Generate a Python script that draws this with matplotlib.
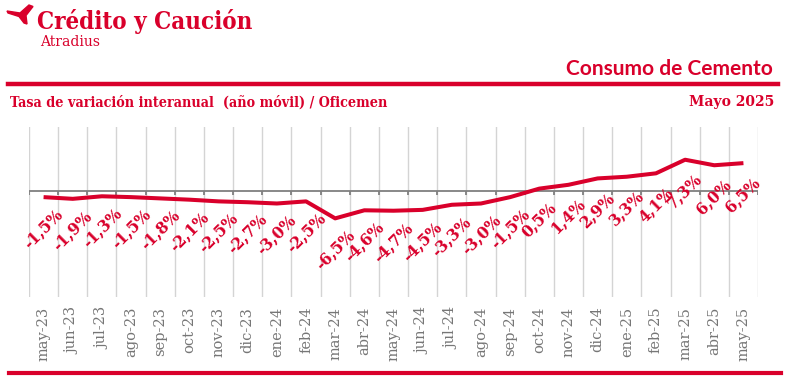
import numpy as np
import matplotlib.pyplot as plt
from matplotlib.patches import Polygon

# data
months = ['may-23', 'jun-23', 'jul-23', 'ago-23', 'sep-23', 'oct-23', 'nov-23', 'dic-23',
          'ene-24', 'feb-24', 'mar-24', 'abr-24', 'may-24', 'jun-24', 'jul-24', 'ago-24',
          'sep-24', 'oct-24', 'nov-24', 'dic-24', 'ene-25', 'feb-25', 'mar-25', 'abr-25',
          'may-25']
variacion = [-1.5, -1.9, -1.3, -1.5, -1.8, -2.1, -2.5, -2.7, -3.0, -2.5, -6.5, -4.6, -4.7,
             -4.5, -3.3, -3.0, -1.5, 0.5, 1.4, 2.9, 3.3, 4.1, 7.3, 6.0, 6.5]

red = '#d9002b'
gray = '#7f7f7f'
W, H = 794, 386

fig = plt.figure(figsize=(W/100, H/100), dpi=100)
ax = fig.add_axes([29/W, 1 - 297/H, 729/W, 170/H])

x = np.arange(len(months))
ax.plot(x, variacion, color=red, lw=2.9, solid_capstyle='butt', zorder=3)

# labels under each point
for xi, v in zip(x, variacion):
    txt = ('%.1f%%' % v).replace('.', ',')
    ax.annotate(txt, (xi, v), xytext=(0, -23), textcoords='offset points',
                rotation=45, rotation_mode='anchor', ha='center', va='center',
                color=red, fontsize=12.5, fontweight='bold', family='DejaVu Serif',
                fontstretch='condensed')

ax.set_xlim(-0.5, len(months) - 0.5)
ax.set_ylim(-25, 15)
bounds = np.arange(len(months) + 1) - 0.5
for b in bounds:
    ax.axvline(b, color='#d4d4d4', lw=1, zorder=1)
ax.axhline(0, color=gray, lw=1.3, zorder=2)
ax.vlines(bounds, -0.9, 0, color=gray, lw=1.3, zorder=2)

ax.set_xticks(x)
ax.set_xticklabels(months, rotation=90, color='#767676', fontsize=10.5,
                   family='DejaVu Serif')
ax.tick_params(axis='x', length=0, pad=7)
ax.set_yticks([])
for s in ax.spines.values():
    s.set_visible(False)

# header
def fx(px):
    return px / W

def fy(py):
    return 1 - py / H

# logo mark
logo = [(7, 11), (20, 13), (29, 5), (33, 6.5), (26, 15.5), (27, 24),
        (24, 23), (19, 16.5), (8, 13)]
fig.patches.append(Polygon([(fx(a), fy(b)) for a, b in logo], closed=True,
                           transform=fig.transFigure, color=red))
fig.text(fx(37), fy(29), 'Crédito y Caución', color=red, fontsize=17.3, fontweight='bold',
         family='DejaVu Serif', fontstretch='condensed', ha='left', va='baseline')
fig.text(fx(40), fy(46), 'Atradius', color=red, fontsize=10, family='DejaVu Serif',
         ha='left', va='baseline')
fig.text(fx(773), fy(75), 'Consumo de Cemento', color=red, fontsize=15, fontweight='bold',
         family='Lato', ha='right', va='baseline')
fig.add_artist(plt.Line2D([fx(8), fx(778)], [fy(84), fy(84)], color=red, lw=3.2))
fig.text(fx(10), fy(107), 'Tasa de variación interanual  (año móvil) / Oficemen', color=red,
         fontsize=10.3, fontweight='bold', family='DejaVu Serif', fontstretch='condensed',
         ha='left', va='baseline')
fig.text(fx(774), fy(106), 'Mayo 2025', color=red, fontsize=10, fontweight='bold',
         family='DejaVu Serif', ha='right', va='baseline')
fig.add_artist(plt.Line2D([fx(9), fx(781)], [fy(373), fy(373)], color=red, lw=3))

fig.savefig('out.png', dpi=100)
